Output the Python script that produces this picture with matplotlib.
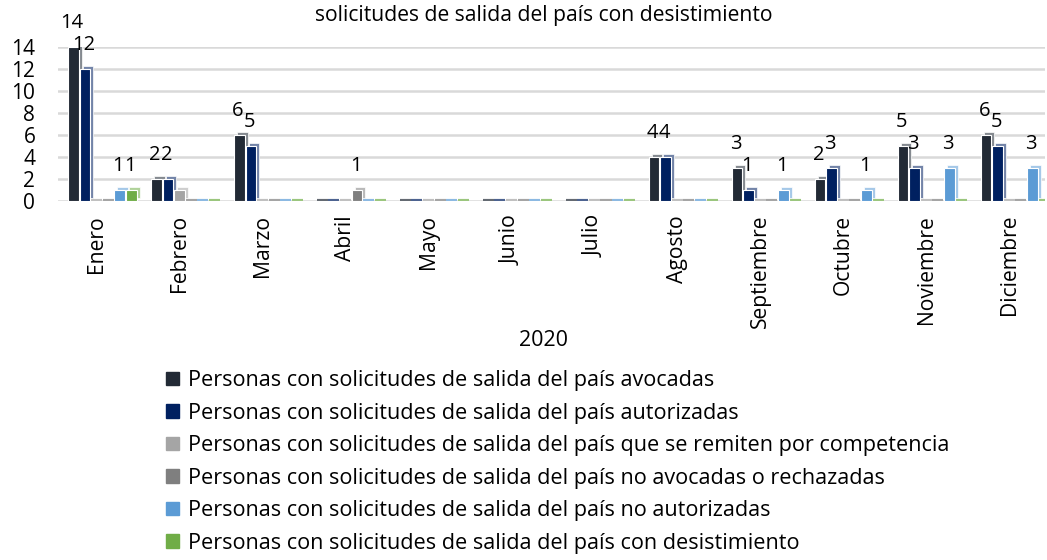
import numpy as np
import matplotlib.pyplot as plt
import matplotlib.transforms as mtransforms
from matplotlib.colors import to_rgb

plt.rcParams['font.family'] = ['Open Sans', 'DejaVu Sans']

months = ['Enero', 'Febrero', 'Marzo', 'Abril', 'Mayo', 'Junio', 'Julio',
          'Agosto', 'Septiembre', 'Octubre', 'Noviembre', 'Diciembre']

avocadas = [14, 2, 6, 0, 0, 0, 0, 4, 3, 2, 5, 6]
autorizadas = [12, 2, 5, 0, 0, 0, 0, 4, 1, 3, 3, 5]
remiten = [0, 1, 0, 0, 0, 0, 0, 0, 0, 0, 0, 0]
rechazadas = [0, 0, 0, 1, 0, 0, 0, 0, 0, 0, 0, 0]
no_autorizadas = [1, 0, 0, 0, 0, 0, 0, 0, 1, 1, 3, 3]
desistimiento = [1, 0, 0, 0, 0, 0, 0, 0, 0, 0, 0, 0]

series_names = [
    'Personas con solicitudes de salida del país avocadas',
    'Personas con solicitudes de salida del país autorizadas',
    'Personas con solicitudes de salida del país que se remiten por competencia',
    'Personas con solicitudes de salida del país no avocadas o rechazadas',
    'Personas con solicitudes de salida del país no autorizadas',
    'Personas con solicitudes de salida del país con desistimiento',
]
series_vals = [avocadas, autorizadas, remiten, rechazadas, no_autorizadas, desistimiento]
colors = ['#222A35', '#002060', '#A5A5A5', '#7F7F7F', '#5B9BD5', '#70AD47']
show_labels = [True, True, False, True, True, True]


def tint(c, f):
    r, g, b = to_rgb(c)
    return (r + (1 - r) * f, g + (1 - g) * f, b + (1 - b) * f)


fig = plt.figure(figsize=(10.47, 5.6), dpi=100)
ax = fig.add_axes([0.055, 0.641, 0.943, 0.275])

x = np.arange(len(months))
w = 0.14
depth = mtransforms.offset_copy(ax.transData, fig=fig, x=3, y=3, units='dots')

for i, (vals, col) in enumerate(zip(series_vals, colors)):
    pos = x + (i - 2.5) * w
    vals = np.array(vals)
    nz = vals > 0
    # flat slabs for zero values
    ax.bar(pos[~nz], vals[~nz], w * 0.95, color=tint(col, 0.3),
           edgecolor=tint(col, 0.3), linewidth=3, zorder=3)
    # depth face
    back = ax.bar(pos[nz], vals[nz], w * 0.92, color=tint(col, 0.45),
                  edgecolor='white', linewidth=0.5, zorder=3)
    for p in back:
        p.set_transform(depth)
    ax.bar(pos[nz], vals[nz], w * 0.92, color=col, edgecolor='white',
           linewidth=0.8, zorder=4)
    if show_labels[i]:
        for xp, v in zip(pos[nz], vals[nz]):
            ax.annotate(str(v), (xp, v), xytext=(-1, 17), textcoords='offset points',
                        ha='center', va='center', fontsize=14.5, color='black',
                        annotation_clip=False, zorder=6)

ax.set_xlim(-0.54, 11.36)
ax.set_ylim(0, 14)
ax.set_yticks(range(0, 15, 2))
ax.yaxis.grid(True, color='#D9D9D9', linewidth=1.8, zorder=0)
ax.set_axisbelow(True)
for s in ax.spines.values():
    s.set_visible(False)
ax.tick_params(axis='y', length=0, pad=16, labelsize=15)
ax.tick_params(axis='x', length=0, pad=10, labelsize=15.2)
ax.set_xticks(x - 0.07)
ax.set_xticklabels(months, rotation=90, va='top')

fig.text(0.519, 1 - 15 / 560, 'solicitudes de salida del país con desistimiento',
         ha='center', va='center', fontsize=15.2)
fig.text(0.519, 1 - 340 / 560, '2020', ha='center', va='center', fontsize=15.5)

handles = [plt.Rectangle((0, 0), 1, 1, color=c) for c in colors]
fig.legend(handles, series_names, loc='upper left', bbox_to_anchor=(0.159, 0.339),
           frameon=False, fontsize=15.6, handlelength=0.6, handleheight=0.6,
           handletextpad=0.4, labelspacing=0.53, borderpad=0, borderaxespad=0)

fig.savefig('out.png', dpi=100)
